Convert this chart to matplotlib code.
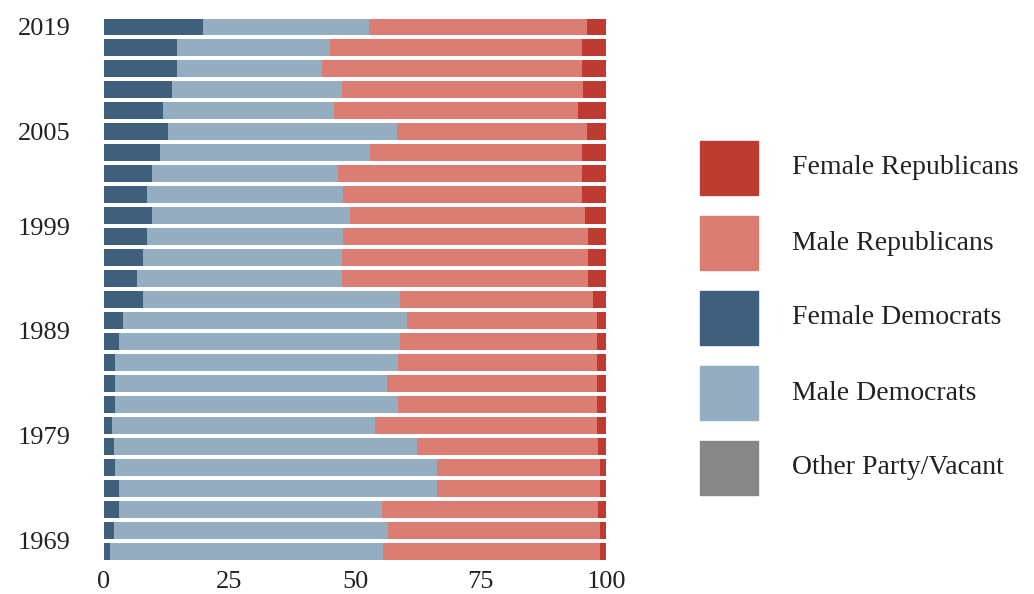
import matplotlib
matplotlib.use("Agg")
import matplotlib.pyplot as plt
from matplotlib.patches import Rectangle

plt.rcParams['font.family'] = ['Liberation Serif', 'DejaVu Serif']

# Congress years, top (2019) to bottom (1969)
years = [2019, 2017, 2015, 2013, 2011, 2009, 2007, 2005, 2003, 2001, 1999, 1997, 1995,
         1993, 1991, 1989, 1987, 1985, 1983, 1981, 1979, 1977, 1975, 1973, 1971, 1969]

# shares of seats in percent
female_dem = [19.7, 14.5, 14.5, 13.5, 11.8, 12.8, 11.2, 9.5, 8.5, 9.5, 8.5, 7.7, 6.5,
              7.7, 3.7, 2.9, 2.2, 2.2, 2.2, 1.5, 1.9, 2.2, 2.9, 2.9, 1.9, 1.2]
male_dem = [33.0, 30.5, 28.9, 33.9, 34.0, 45.5, 41.8, 37.1, 39.1, 39.5, 39.1, 39.7, 40.9,
            51.3, 56.6, 56.1, 56.4, 54.1, 56.4, 52.5, 60.4, 64.1, 63.4, 52.4, 54.7, 54.4]
male_rep = [43.6, 50.2, 51.8, 48.0, 48.6, 37.9, 42.2, 48.6, 47.6, 46.8, 48.8, 49.0, 49.0,
            38.4, 37.9, 39.3, 39.7, 42.0, 39.6, 44.2, 36.1, 32.5, 32.5, 43.1, 42.2, 43.2]
female_rep = [3.8, 4.8, 4.8, 4.6, 5.6, 3.8, 4.8, 4.8, 4.8, 4.2, 3.6, 3.6, 3.6,
              2.6, 1.8, 1.7, 1.7, 1.7, 1.8, 1.8, 1.6, 1.2, 1.2, 1.6, 1.2, 1.2]
other = [0.0] * len(years)

tick_pos = [1970, 1980, 1990, 2000, 2009, 2019]
tick_labels = ['1969', '1979', '1989', '1999', '2005', '2019']

colors = {
    'Female Republicans': '#be3b32',
    'Male Republicans': '#db7d72',
    'Female Democrats': '#3f5f7c',
    'Male Democrats': '#95adc0',
    'Other Party/Vacant': '#878787',
}

fig = plt.figure(figsize=(10.34, 5.94), dpi=100)
ax = fig.add_axes([0.1006, 0.0547, 0.4855, 0.9175])

series = [('Female Democrats', female_dem), ('Male Democrats', male_dem),
          ('Male Republicans', male_rep), ('Female Republicans', female_rep),
          ('Other Party/Vacant', other)]

left = [0.0] * len(years)
for name, vals in series:
    ax.barh(years, vals, left=left, height=1.62, color=colors[name], linewidth=0)
    left = [l + v for l, v in zip(left, vals)]

ax.set_xlim(0, 100)
ax.set_ylim(1968, 2020)
ax.set_xticks([0, 25, 50, 75, 100])
ax.set_yticks(tick_pos)
ax.set_yticklabels(tick_labels)
ax.tick_params(axis='both', length=0, labelsize=19, labelcolor='#222222')
ax.tick_params(axis='y', pad=24)
ax.tick_params(axis='x', pad=7)
for s in ax.spines.values():
    s.set_visible(False)

# legend drawn by hand
legend_order = ['Female Republicans', 'Male Republicans', 'Female Democrats',
                'Male Democrats', 'Other Party/Vacant']
W, H = 1034.0, 594.0
for i, name in enumerate(legend_order):
    cy = 168 + 75 * i
    fig.patches.append(Rectangle((700 / W, 1 - (cy + 27) / H), 58 / W, 54 / H,
                                 transform=fig.transFigure, color=colors[name]))
    fig.text(792 / W, 1 - cy / H, name, fontsize=20, color='#222222', va='center')

fig.savefig('out.png', dpi=100)
